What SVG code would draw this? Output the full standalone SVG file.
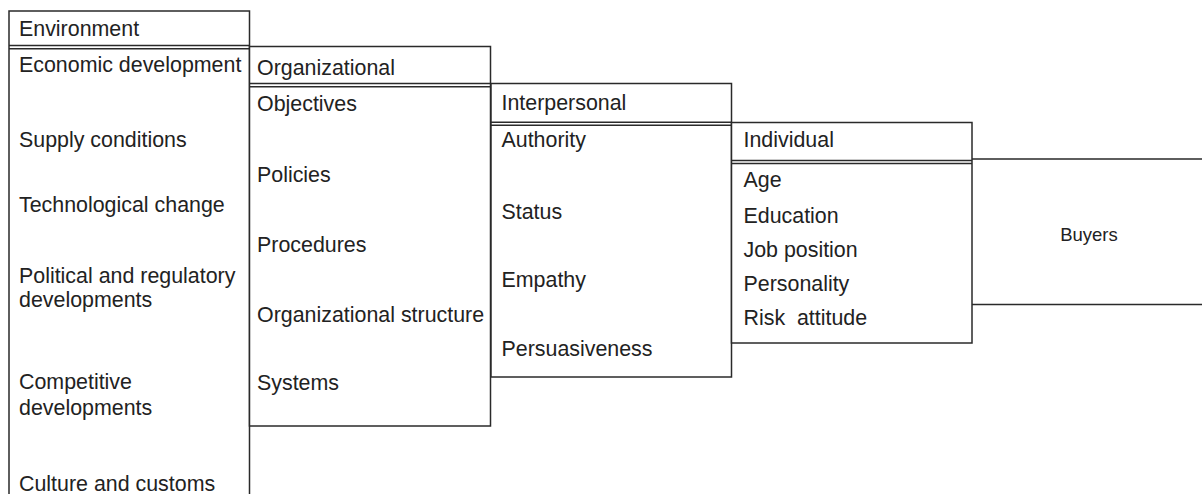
<svg xmlns="http://www.w3.org/2000/svg" width="1202" height="494" viewBox="0 0 1202 494">
<style>
.box{fill:#fff;stroke:#2a2a2a;stroke-width:1.5}
.ln{fill:none;stroke:#2a2a2a;stroke-width:1.4}
.t{font-family:"Liberation Sans",Arial,sans-serif;font-size:21.4px;fill:#222}
.tb{font-family:"Liberation Sans",Arial,sans-serif;font-size:18.5px;fill:#222}
</style>
<rect width="1202" height="494" fill="#fff"/>
<g id="environment">
<path class="box" d="M9,494 V11 H249.5 V494"/>
<path class="ln" d="M9,45.5 H249.5 M9,48.7 H249.5"/>
<text class="t" x="19" y="36">Environment</text>
<text class="t" x="19" y="72">Economic development</text>
<text class="t" x="19" y="146.5">Supply conditions</text>
<text class="t" x="19" y="211.5">Technological change</text>
<text class="t" x="19" y="282.5">Political and regulatory</text>
<text class="t" x="19" y="306.5">developments</text>
<text class="t" x="19" y="388.5">Competitive</text>
<text class="t" x="19" y="414.5">developments</text>
<text class="t" x="19" y="490.5">Culture and customs</text>
</g>
<g id="organizational">
<rect class="box" x="249.5" y="46.5" width="241" height="379.5"/>
<path class="ln" d="M249.5,83.5 H490.5 M249.5,86.8 H490.5"/>
<text class="t" x="257" y="75">Organizational</text>
<text class="t" x="257" y="110.5">Objectives</text>
<text class="t" x="257" y="181.5">Policies</text>
<text class="t" x="257" y="251.5">Procedures</text>
<text class="t" x="257" y="321.5">Organizational structure</text>
<text class="t" x="257" y="390">Systems</text>
</g>
<g id="interpersonal">
<rect class="box" x="491" y="83.5" width="240.5" height="293.5"/>
<path class="ln" d="M491,122.3 H731.5 M491,125.3 H731.5"/>
<text class="t" x="501.5" y="110">Interpersonal</text>
<text class="t" x="501.5" y="146.5">Authority</text>
<text class="t" x="501.5" y="219">Status</text>
<text class="t" x="501.5" y="287">Empathy</text>
<text class="t" x="501.5" y="356">Persuasiveness</text>
</g>
<g id="individual">
<rect class="box" x="731.5" y="122.5" width="240.5" height="220.5"/>
<path class="ln" d="M731.5,160.5 H972 M731.5,163.5 H972"/>
<text class="t" x="743.5" y="146.5">Individual</text>
<text class="t" x="743.5" y="186.5">Age</text>
<text class="t" x="743.5" y="223">Education</text>
<text class="t" x="743.5" y="256.5">Job position</text>
<text class="t" x="743.5" y="290.5">Personality</text>
<text class="t" x="743.5" y="325" xml:space="preserve">Risk  attitude</text>
</g>
<g id="buyers">
<path class="ln" d="M972,159 H1202 M972,304.5 H1202"/>
<text class="tb" x="1089" y="241" text-anchor="middle">Buyers</text>
</g>
<g id="connectors"></g>
</svg>
